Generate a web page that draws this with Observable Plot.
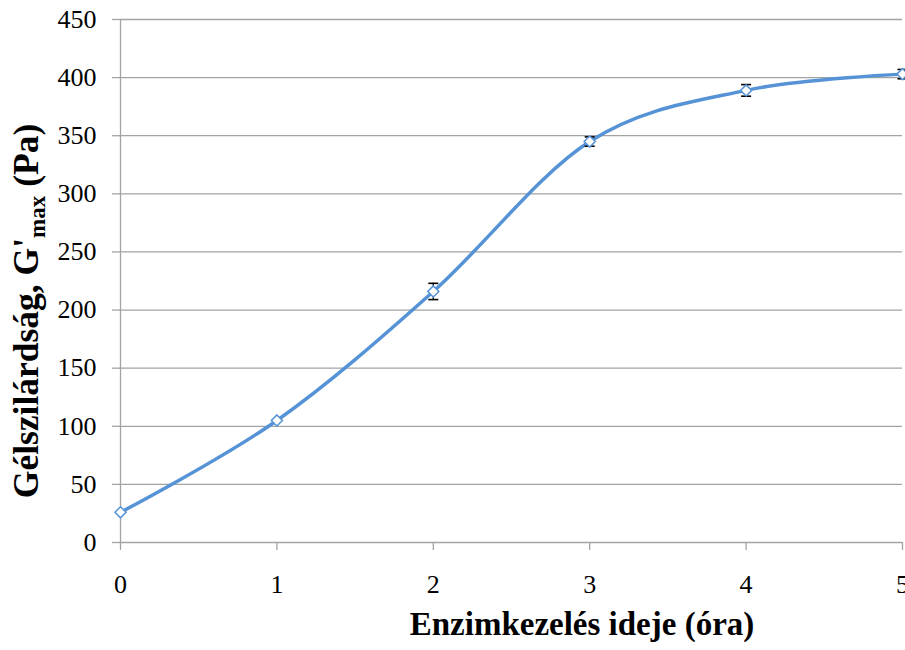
<!DOCTYPE html>
<html>
<head>
<meta charset="utf-8">
<script src="https://cdn.jsdelivr.net/npm/d3@7"></script>
<script src="https://cdn.jsdelivr.net/npm/@observablehq/plot@0.6"></script>
<style>
  html, body { margin: 0; padding: 0; background: #fff; }
  #chart svg { display: block; }
</style>
</head>
<body>
<div id="chart"></div>
<script>
// Enzyme treatment time (hours) and gel strength G'max (Pa) with error
const hours = [0, 1, 2, 3, 4, 5];
const gmax = [26, 105, 216, 345, 389, 403];
const gmaxErr = [0, 0, 7, 4, 5, 4];
const xTicks = [0, 1, 2, 3, 4, 5];
const yTicks = [0, 50, 100, 150, 200, 250, 300, 350, 400, 450];
const xTitle = "Enzimkezelés ideje (óra)";
const yTitleMain = "Gélszilárdság, G'";
const yTitleSub = "max";
const yTitleEnd = " (Pa)";

const rows = hours.map((h, i) => ({ h, g: gmax[i], e: gmaxErr[i] }));
const errRows = rows.filter(d => d.e > 0);

const gridColor = "#a3a3a3";
const lineColor = "#5592d6";

// horizontal cap for the error bars
const capSymbol = {
  draw(context, size) {
    const r = Math.sqrt(size / Math.PI);
    context.moveTo(-r, 0);
    context.lineTo(r, 0);
  }
};

const chart = Plot.plot({
  width: 905,
  height: 650,
  marginLeft: 120,
  marginRight: 3,
  marginTop: 19,
  marginBottom: 108,
  style: { fontFamily: "'Liberation Serif', 'Times New Roman', serif", fontSize: "26px", background: "#fff", overflow: "visible", color: "#000" },
  x: { domain: [0, 5] },
  y: { domain: [0, 450] },
  marks: [
    Plot.ruleY(yTicks, { stroke: gridColor, strokeWidth: 1.3 }),
    Plot.ruleX([0], { stroke: gridColor, strokeWidth: 1.3 }),
    Plot.axisY({ ticks: yTicks, tickSize: 8, tickPadding: 16, label: null, stroke: gridColor, strokeWidth: 1.3, strokeOpacity: 1, fill: "#000" }),
    Plot.axisX({ ticks: xTicks, tickSize: 8, tickPadding: 24, label: null, stroke: gridColor, strokeWidth: 1.3, strokeOpacity: 1, fill: "#000", tickFormat: d3.format("d") }),
    Plot.line(rows, { x: "h", y: "g", curve: "cardinal", stroke: lineColor, strokeWidth: 3.5 }),
    Plot.ruleX(errRows, { x: "h", y1: d => d.g - d.e, y2: d => d.g + d.e, stroke: "#000", strokeWidth: 1.3 }),
    Plot.dot(errRows, { x: "h", y: d => d.g - d.e, symbol: capSymbol, r: 5, stroke: "#000", strokeWidth: 1.6 }),
    Plot.dot(errRows, { x: "h", y: d => d.g + d.e, symbol: capSymbol, r: 5, stroke: "#000", strokeWidth: 1.6 }),
    Plot.dot(rows, { x: "h", y: "g", symbol: "diamond2", r: 5, fill: "#fff", stroke: lineColor, strokeWidth: 1.5 })
  ]
});

const svg = d3.select(chart);

// axis titles
svg.append("text")
  .attr("x", 582)
  .attr("y", 635)
  .attr("text-anchor", "middle")
  .attr("font-family", "'Liberation Serif', 'Times New Roman', serif")
  .attr("font-weight", "bold")
  .attr("font-size", 33)
  .attr("fill", "#000")
  .text(xTitle);

const yt = svg.append("text")
  .attr("transform", "translate(38,311) rotate(-90)")
  .attr("text-anchor", "middle")
  .attr("font-family", "'Liberation Serif', 'Times New Roman', serif")
  .attr("font-weight", "bold")
  .attr("font-size", 35.5)
  .attr("fill", "#000");
yt.append("tspan").text(yTitleMain);
yt.append("tspan").attr("font-size", 23).attr("dy", 7).text(yTitleSub);
yt.append("tspan").attr("dy", -7).text(yTitleEnd);

document.getElementById("chart").appendChild(chart);
</script>
</body>
</html>
